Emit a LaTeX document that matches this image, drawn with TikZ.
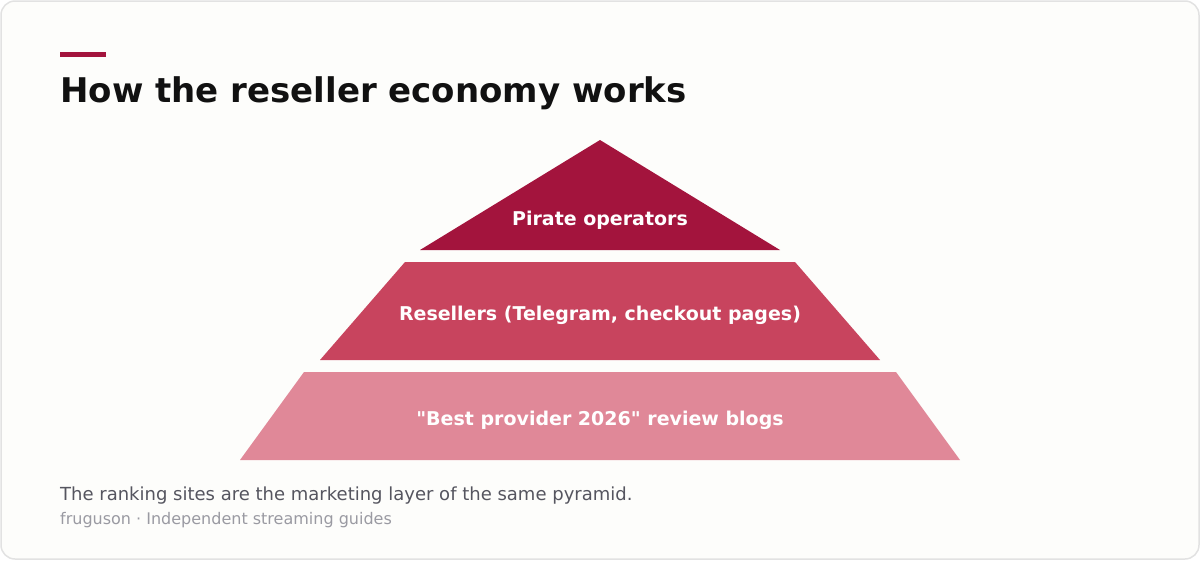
\documentclass[tikz,border=0pt]{standalone}
\usepackage{fontspec}
\setmainfont{DejaVu Sans}[Ligatures=TeXOff]
\definecolor{accent}{HTML}{A3143D}
\definecolor{midred}{HTML}{C8445E}
\definecolor{lightred}{HTML}{E08898}
\definecolor{bgcol}{HTML}{FDFDFB}
\definecolor{framecol}{HTML}{E2E2E2}
\definecolor{titlecol}{HTML}{111111}
\definecolor{subcol}{HTML}{55555F}
\definecolor{srccol}{HTML}{9A9AA2}
\tikzset{
  layerlabel/.style={text=white, font=\fontsize{19}{22}\selectfont\bfseries, anchor=base, inner sep=0pt},
  leftlabel/.style={anchor=base west, inner sep=0pt},
}
\begin{document}
\begin{tikzpicture}[x=1pt,y=-1pt]
\useasboundingbox (0,0) rectangle (1200,560);
\draw[framecol, fill=bgcol, line width=1.5pt, rounded corners=14pt] (1,1) rectangle (1199,559);
\fill[accent] (60,52) rectangle (106,57);
\node[leftlabel, text=titlecol, font=\fontsize{34}{40}\selectfont\bfseries] (title) at (60,102) {How the reseller economy works};
% layers
\fill[accent] (600,140) -- (780,250) -- (420,250) -- cycle;
\fill[midred] (405,262) -- (795,262) -- (880,360) -- (320,360) -- cycle;
\fill[lightred] (304,372) -- (896,372) -- (960,460) -- (240,460) -- cycle;
\node[layerlabel] (top) at (600,225) {Pirate operators};
\node[layerlabel] (mid) at (600,320) {Resellers (Telegram, checkout pages)};
\node[layerlabel] (bot) at (600,425) {"Best provider 2026" review blogs};
\node[leftlabel, text=subcol, font=\fontsize{18}{21}\selectfont] (note) at (60,500) {The ranking sites are the marketing layer of the same pyramid.};
\node[leftlabel, text=srccol, font=\fontsize{16}{19}\selectfont] (src) at (60,524) {fruguson · Independent streaming guides};
\end{tikzpicture}
\end{document}
